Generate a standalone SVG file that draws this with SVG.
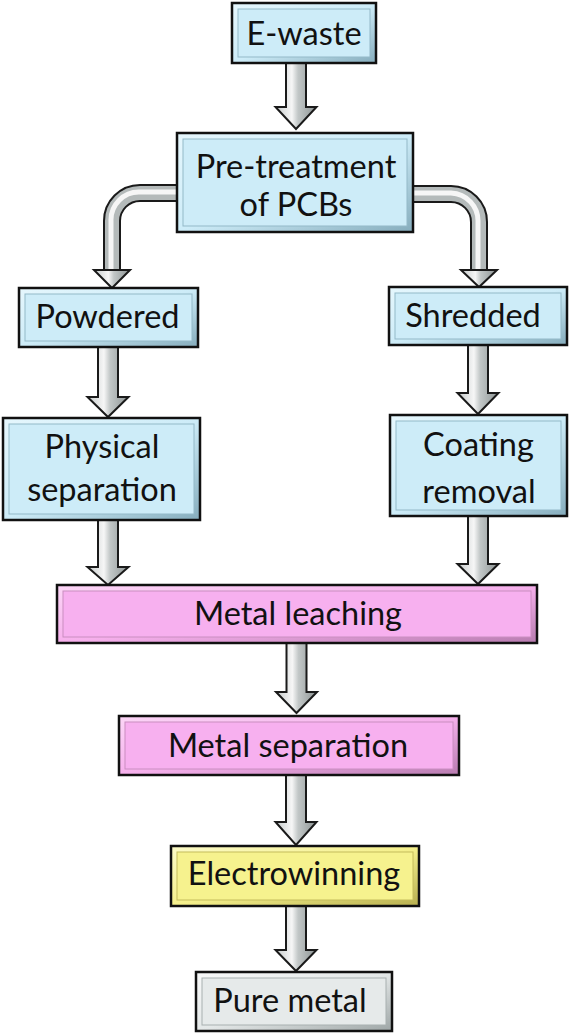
<svg xmlns="http://www.w3.org/2000/svg" width="572" height="1035" viewBox="0 0 572 1035">
  <defs>
    <linearGradient id="shaft" x1="0" y1="0" x2="1" y2="0">
      <stop offset="0" stop-color="#c4c9c9"/>
      <stop offset="0.4" stop-color="#f6f6f6"/>
      <stop offset="0.55" stop-color="#c2c7c7"/>
      <stop offset="1" stop-color="#8c9393"/>
    </linearGradient>
    <linearGradient id="bandBlue" x1="0" y1="0" x2="1" y2="1">
      <stop offset="0" stop-color="#e6f7fd"/>
      <stop offset="0.5" stop-color="#cdecf8"/>
      <stop offset="1" stop-color="#86adbd"/>
    </linearGradient>
    <linearGradient id="bandPink" x1="0" y1="0" x2="1" y2="1">
      <stop offset="0" stop-color="#fcd6f7"/>
      <stop offset="0.5" stop-color="#f6b0ec"/>
      <stop offset="1" stop-color="#b87cb0"/>
    </linearGradient>
    <linearGradient id="bandYellow" x1="0" y1="0" x2="1" y2="1">
      <stop offset="0" stop-color="#fcfbc8"/>
      <stop offset="0.5" stop-color="#f5f08c"/>
      <stop offset="1" stop-color="#b8b050"/>
    </linearGradient>
    <linearGradient id="bandGray" x1="0" y1="0" x2="1" y2="1">
      <stop offset="0" stop-color="#f8f9f9"/>
      <stop offset="0.5" stop-color="#e4e8e8"/>
      <stop offset="1" stop-color="#9ea6a6"/>
    </linearGradient>
  </defs>
  <style>
    .out { stroke: #111; stroke-width: 2.5; }
    .in { stroke-width: 1; }
    .blue .out { fill: url(#bandBlue); }
    .blue .in { fill: #cdecf8; stroke: #93b9c8; }
    .pink .out { fill: url(#bandPink); }
    .pink .in { fill: #f7b0ef; stroke: #c98ec0; }
    .yellow .out { fill: url(#bandYellow); }
    .yellow .in { fill: #f6f28e; stroke: #c4bc5c; }
    .gray .out { fill: url(#bandGray); }
    .gray .in { fill: #e6eaea; stroke: #a8b0b0; }
    text { font-family: Lato, "Open Sans", "Liberation Sans", sans-serif; font-size: 32.5px; fill: #111; text-anchor: middle; }
    .arrow { fill: url(#shaft); stroke: #1a1a1a; stroke-width: 2; stroke-linejoin: miter; }
    .tube-o { fill: none; stroke: #1a1a1a; stroke-width: 18; }
    .tube-m { fill: none; stroke: #b4baba; stroke-width: 14; }
    .tube-h { fill: none; stroke: #f6f6f6; stroke-width: 5; }
  </style>

  <g id="connectors">
    <path class="arrow" d="M286,63 L306,63 L306,107 L316.5,107 L296,129 L275.5,107 L286,107 Z"/>
    <path class="arrow" d="M98,347 L118,347 L118,397 L128.5,397 L108,417 L87.5,397 L98,397 Z"/>
    <path class="arrow" d="M98,520 L118,520 L118,567 L128.5,567 L108,585 L87.5,567 L98,567 Z"/>
    <path class="arrow" d="M468,345 L488,345 L488,393 L498.5,393 L478,414 L457.5,393 L468,393 Z"/>
    <path class="arrow" d="M468,516 L488,516 L488,564 L498.5,564 L478,584 L457.5,564 L468,564 Z"/>
    <path class="arrow" d="M286.5,643 L306.5,643 L306.5,692 L317,692 L296.5,713 L276,692 L286.5,692 Z"/>
    <path class="arrow" d="M286,775 L306,775 L306,822 L316.5,822 L296,845 L275.5,822 L286,822 Z"/>
    <path class="arrow" d="M286,906 L306,906 L306,950 L316.5,950 L296,971 L275.5,950 L286,950 Z"/>
    <g id="curve-left">
      <path class="tube-o" d="M176,193 L140,193 A28,28 0 0 0 112,221 L112,271"/>
      <path class="tube-m" d="M176,193 L140,193 A28,28 0 0 0 112,221 L112,271"/>
      <path class="tube-h" d="M176,192 L140,192 A28,28 0 0 0 111,221 L111,271"/>
      <path class="arrow" d="M94,270 L130,270 L112,288 Z"/>
    </g>
    <g id="curve-right">
      <path class="tube-o" d="M412,194 L451,194 A28,28 0 0 1 479,222 L479,271"/>
      <path class="tube-m" d="M412,194 L451,194 A28,28 0 0 1 479,222 L479,271"/>
      <path class="tube-h" d="M412,193 L451,193 A28,28 0 0 1 478,222 L478,271"/>
      <path class="arrow" d="M461,270 L497,270 L479,287 Z"/>
    </g>
  </g>

  <g id="e-waste" class="blue">
    <rect class="out" x="232" y="3" width="144" height="60"/>
    <rect class="in" x="238" y="9" width="132" height="48"/>
    <text x="304" y="45">E-waste</text>
  </g>
  <g id="pre-treatment" class="blue">
    <rect class="out" x="177" y="133" width="236" height="99"/>
    <rect class="in" x="183" y="139" width="224" height="87"/>
    <text x="296" y="178">Pre-treatment</text>
    <text x="296" y="216">of PCBs</text>
  </g>
  <g id="powdered" class="blue">
    <rect class="out" x="19" y="288" width="179" height="59"/>
    <rect class="in" x="25" y="294" width="167" height="47"/>
    <text x="107.5" y="328">Powdered</text>
  </g>
  <g id="shredded" class="blue">
    <rect class="out" x="389" y="287" width="178" height="58"/>
    <rect class="in" x="395" y="293" width="166" height="46"/>
    <text x="473" y="327">Shredded</text>
  </g>
  <g id="physical-separation" class="blue">
    <rect class="out" x="3" y="418" width="197" height="102"/>
    <rect class="in" x="9" y="424" width="185" height="90"/>
    <text x="102" y="458">Physical</text>
    <text x="102" y="501">separation</text>
  </g>
  <g id="coating-removal" class="blue">
    <rect class="out" x="390" y="415" width="177" height="101"/>
    <rect class="in" x="396" y="421" width="165" height="89"/>
    <text x="478.5" y="456">Coating</text>
    <text x="479" y="503">removal</text>
  </g>
  <g id="metal-leaching" class="pink">
    <rect class="out" x="57" y="585" width="480" height="58"/>
    <rect class="in" x="63" y="591" width="468" height="46"/>
    <text x="298" y="625">Metal leaching</text>
  </g>
  <g id="metal-separation" class="pink">
    <rect class="out" x="119" y="716" width="340" height="59"/>
    <rect class="in" x="125" y="722" width="328" height="47"/>
    <text x="288" y="757">Metal separation</text>
  </g>
  <g id="electrowinning" class="yellow">
    <rect class="out" x="171" y="846" width="248" height="60"/>
    <rect class="in" x="177" y="852" width="236" height="48"/>
    <text x="294" y="885">Electrowinning</text>
  </g>
  <g id="pure-metal" class="gray">
    <rect class="out" x="196" y="972" width="196" height="59"/>
    <rect class="in" x="202" y="978" width="184" height="47"/>
    <text x="290" y="1012">Pure metal</text>
  </g>
</svg>
